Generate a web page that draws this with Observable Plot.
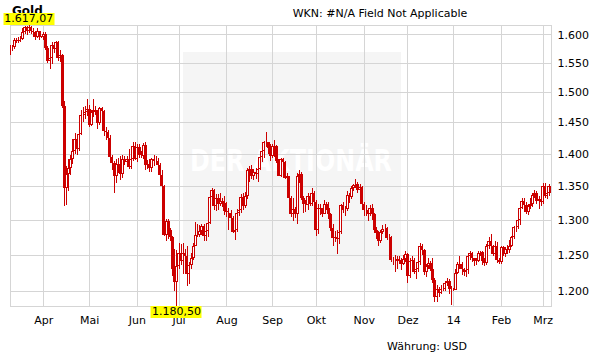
<!DOCTYPE html>
<html><head><meta charset="utf-8">
<script src="https://cdn.jsdelivr.net/npm/d3@7"></script>
<script src="https://cdn.jsdelivr.net/npm/@observablehq/plot@0.6"></script>
<style>
body{margin:0;background:#fff;}
#wrap{position:relative;width:611px;height:364px;font-family:"DejaVu Sans",Verdana,sans-serif;background:#fff;overflow:hidden;}
#wrap svg{position:absolute;left:0;top:0;}
.t{position:absolute;font-size:11px;color:#000;white-space:nowrap;line-height:12px;}
</style></head><body>
<div id="wrap"></div>
<script>
// Gold (USD), daily OHLC, trading days starting 2013-03-08
const startDate = "2013-03-08";
const open = [
1576,1577,1578,1590,1588,1591,1592,1604,1613,1607,1614,1607,1604,1596,1606,1596,
1596,1600,1576,1553,1558,1581,1574,1586,1558,1564,1477,1348,1368,1378,1392,1405,1424,1408,1432,1462,1462,1467,
1472,1446,1467,1470,1468,1449,1473,1468,1436,1434,1425,1395,1386,1365,1384,1378,1369,1392,1387,1391,1380,1391,1412,
1392,1411,1398,1397,1413,1383,1384,1378,1391,1389,1388,1383,1367,1350,1278,1298,1285,1276,1230,1212,
1234,1253,1242,1252,1249,1223,1236,1246,1262,1278,1278,1284,1291,1277,1284,1296,1334,1345,1321,1333,1323,1328,1325,
1313,1311,1310,1303,1283,1286,1310,1314,1334,1320,1336,1374,1377,1365,1372,1369,1377,1395,1404,1419,1418,1409,
1396,1412,1412,1389,1366,1391,1387,1363,1365,1332,1308,1316,1308,1366,1368,1333,1323,1322,1336,1323,1339,
1327,1286,1318,1316,1309,1324,1318,1308,1288,1274,1276,1272,1282,1322,1315,1316,1337,1334,1347,1352,1353,1345,1349,
1323,1315,1314,1308,1318,1308,1286,1281,1270,1283,1287,1288,1274,1275,1243,1243,1244,1241,1243,1238,1244,
1251,1221,1241,1243,1226,1230,1240,1262,1257,1226,1234,1239,1230,1216,1193,1203,1198,1203,1203,1211,1214,1203,
1202,1202,1225,1238,1238,1230,1226,1229,1248,1253,1245,1241,1242,1253,1254,1241,1239,1263,1270,1263,1251,1262,1243,
1240,1261,1251,1258,1257,1263,1275,1289,1290,1300,1318,1328,1322,1312,1321,1324,1337,1340,1328,1331,
1326,1350,1336,1339,1351];
const high = [
1582,1582,1593,1594,1596,1597,1611,1616,1615,1617.07,1616,1612,1606,1611,1607,1597,
1604,1604,1579,1567,1587,1585,1588,1589,1573,1566,1485,1381,1392,1398,1424,1433,1431,1437,1470,1476,1477,1488,
1478,1471,1488,1477,1471,1476,1476,1470,1442,1437,1430,1398,1389,1392,1394,1397,1398,1396,1397,1407,1396,1418,1418,
1416,1415,1405,1417,1418,1390,1391,1393,1398,1396,1394,1386,1375,1352,1301,1301,1288,1277,1258,1257,
1267,1265,1267,1258,1262,1240,1253,1267,1297,1294,1292,1294,1294,1295,1299,1337,1348,1346,1338,1338,1340,1332,1336,
1326,1318,1315,1305,1289,1316,1323,1338,1340,1341,1378,1381,1383,1377,1378,1379,1400,1407,1420,1434,1419,1416,
1416,1422,1414,1392,1393,1393,1388,1370,1366,1336,1333,1319,1370,1375,1371,1336,1330,1339,1338,1347,1343,
1330,1324,1324,1318,1329,1326,1327,1310,1294,1284,1285,1286,1324,1326,1321,1343,1339,1350,1354,1361,1356,1353,1350,
1327,1322,1318,1322,1323,1310,1290,1284,1286,1293,1294,1290,1279,1277,1247,1250,1248,1248,1246,1250,1255,
1252,1245,1249,1246,1237,1243,1267,1265,1259,1238,1246,1242,1246,1218,1209,1206,1208,1205,1214,1218,1217,1207,
1205,1230,1240,1248,1240,1232,1233,1250,1256,1254,1246,1245,1256,1256,1256,1245,1265,1275,1280,1264,1269,1268,1246,
1263,1262,1261,1264,1271,1277,1291,1295,1301,1320,1332,1332,1326,1323,1332,1339,1344,1343,1336,1336,
1355,1355,1342,1353,1355];
const low = [
1563,1571,1575,1584,1585,1586,1591,1600,1599,1603,1601,1597,1591,1594,1591,1594,
1590,1573,1549,1540,1548,1568,1570,1553,1552,1473,1321,1322,1343,1367,1384,1400,1398,1405,1430,1450,1455,1460,
1442,1444,1459,1462,1439,1446,1458,1428,1422,1421,1390,1374,1339,1355,1370,1360,1362,1383,1384,1376,1377,1389,1390,
1387,1394,1394,1391,1375,1376,1372,1371,1381,1382,1377,1363,1345,1277,1269,1272,1270,1221,1200,1180.5,
1230,1236,1224,1243,1207,1210,1231,1243,1262,1275,1276,1278,1270,1270,1276,1294,1324,1314,1313,1314,1321,1319,1307,
1304,1285,1299,1281,1271,1282,1306,1310,1315,1318,1331,1357,1361,1360,1361,1357,1374,1387,1393,1410,1400,1388,
1394,1395,1386,1365,1364,1380,1361,1355,1322,1304,1298,1303,1294,1355,1329,1310,1312,1315,1320,1321,1318,
1277,1280,1307,1304,1308,1315,1301,1284,1262,1268,1251,1265,1279,1310,1305,1313,1325,1331,1343,1347,1339,1339,1319,
1306,1305,1299,1305,1300,1281,1273,1262,1267,1279,1281,1271,1268,1240,1236,1226,1231,1237,1229,1236,1240,
1211,1218,1233,1223,1217,1226,1236,1250,1222,1220,1231,1228,1211,1186,1186,1192,1196,1201,1200,1207,1196,1182,
1200,1202,1224,1230,1222,1221,1219,1224,1243,1240,1234,1236,1240,1249,1236,1234,1236,1259,1260,1248,1250,1239,1238,
1238,1248,1247,1251,1252,1261,1273,1282,1287,1292,1316,1312,1309,1307,1316,1319,1332,1323,1316,1321,
1324,1333,1331,1336,1330];
const close = [
1577,1578,1590,1588,1591,1592,1604,1613,1607,1614,1607,1604,1596,1606,1596,1596,
1600,1576,1553,1558,1581,1574,1586,1558,1564,1477,1348,1368,1378,1392,1405,1424,1408,1432,1462,1462,1467,1472,
1446,1467,1470,1468,1449,1473,1468,1436,1434,1425,1395,1386,1365,1384,1378,1369,1392,1387,1391,1380,1391,1412,1392,
1411,1398,1397,1413,1383,1384,1378,1391,1389,1388,1383,1367,1350,1278,1298,1285,1276,1230,1212,1234,
1253,1242,1252,1249,1223,1236,1246,1262,1278,1278,1284,1291,1277,1284,1296,1334,1345,1321,1333,1323,1328,1325,1313,
1311,1310,1303,1283,1286,1310,1314,1334,1320,1336,1374,1377,1365,1372,1369,1377,1395,1404,1419,1418,1409,1396,
1412,1412,1389,1366,1391,1387,1363,1365,1332,1308,1316,1308,1366,1368,1333,1323,1322,1336,1323,1339,1327,
1286,1318,1316,1309,1324,1318,1308,1288,1274,1276,1272,1282,1322,1315,1316,1337,1334,1347,1352,1353,1345,1349,1323,
1315,1314,1308,1318,1308,1286,1281,1270,1283,1287,1288,1274,1275,1243,1243,1244,1241,1243,1238,1244,1251,
1221,1241,1243,1226,1230,1240,1262,1257,1226,1234,1239,1230,1216,1193,1203,1198,1203,1203,1211,1214,1203,1202,
1202,1225,1238,1238,1230,1226,1229,1248,1253,1245,1241,1242,1253,1254,1241,1239,1263,1270,1263,1251,1262,1243,1240,
1261,1251,1258,1257,1263,1275,1289,1290,1300,1318,1328,1322,1312,1321,1324,1337,1340,1328,1331,1326,
1350,1336,1339,1351,1339];
const monthLabels = ["Apr","Mai","Jun","Jul","Aug","Sep","Okt","Nov","Dez","14","Feb","Mrz"];
const yTicks = [1200,1250,1300,1350,1400,1450,1500,1550,1600];

// trading-day calendar (weekdays)
const dates = [];
{ const d = new Date(startDate + "T00:00:00Z");
  while (dates.length < close.length) { const wd = d.getUTCDay(); if (wd !== 0 && wd !== 6) dates.push(new Date(d)); d.setUTCDate(d.getUTCDate() + 1); } }
const monthStarts = [];
for (let i = 1; i < dates.length; i++) if (dates[i].getUTCMonth() !== dates[i-1].getUTCMonth()) monthStarts.push(i);

const rows = close.map((c, i) => ({i, o: open[i], h: high[i], l: low[i], c}));
const red = "#cc0000", grid = "#d5d5d5";
const de = d3.formatLocale({decimal: ",", thousands: ".", grouping: [3], currency: ["", "€"]});
const fmtAxis = de.format(",.0f"), fmt2 = de.format(",.2f");

const plot = Plot.plot({
  width: 611, height: 364,
  marginLeft: 10, marginRight: 60, marginTop: 25, marginBottom: 58,
  style: {fontFamily: '"DejaVu Sans", Verdana, sans-serif', fontSize: "11px", color: "#000", background: "transparent", overflow: "visible"},
  x: {domain: [0, close.length - 1], axis: null, label: null},
  y: {type: "log", domain: [d3.min(low), d3.max(high)], axis: null, label: null},
  color: {type: "identity"},
  marks: [
    Plot.gridY(yTicks, {stroke: grid, strokeOpacity: 1, shapeRendering: "crispEdges"}),
    Plot.ruleX(monthStarts, {stroke: grid, strokeOpacity: 1, shapeRendering: "crispEdges"}),
    Plot.frame({stroke: grid, shapeRendering: "crispEdges"}),
    Plot.ruleX(rows, {x: "i", y1: "l", y2: "h", stroke: red, strokeWidth: 1, clip: true, shapeRendering: "crispEdges"}),
    Plot.rect(rows, {x1: d => d.i - 0.72, x2: d => d.i + 0.72, y1: "o", y2: "c",
      fill: d => d.c > d.o ? "#ffffff" : red, stroke: red, strokeWidth: 1, inset: 0.5, clip: true, shapeRendering: "crispEdges"}),
    Plot.axisY(yTicks, {anchor: "right", tickSize: 0, tickPadding: 6, tickFormat: fmtAxis, fill: "#000", label: null}),
    Plot.axisX(monthStarts, {anchor: "bottom", tickSize: 0, tickPadding: 10, fill: "#000", label: null,
      tickFormat: d => monthLabels[monthStarts.indexOf(d)]})
  ]
});

// watermark behind everything
const svg = d3.select(plot);
const wm = svg.insert("g", ":first-child");
wm.append("rect").attr("x", 183).attr("y", 52).attr("width", 218).attr("height", 218).attr("fill", "#f5f5f5");
wm.append("text").attr("x", 190).attr("y", 171).attr("fill", "#ffffff").attr("font-size", 30).attr("font-weight", "bold")
  .attr("text-anchor", "start")
  .attr("font-family", '"DejaVu Sans", Verdana, sans-serif').attr("textLength", 202).attr("lengthAdjust", "spacingAndGlyphs")
  .text("DER AKTIONÄR");

const wrap = document.getElementById("wrap");
wrap.appendChild(plot);

function add(txt, css) { const s = document.createElement("div"); s.className = "t"; s.textContent = txt; Object.assign(s.style, css); wrap.appendChild(s); return s; }

add("Gold", {left: "12px", top: "5px", fontWeight: "bold", fontSize: "12px"});
add("WKN: #N/A Field Not Applicable", {left: "380px", top: "8px", transform: "translateX(-50%)"});
add("Währung: USD", {left: "387px", top: "341px"});

// max / min markers placed with the plot's scales
const xs = plot.scale("x"), ys = plot.scale("y");
const iMax = high.indexOf(d3.max(high)), iMin = low.indexOf(d3.min(low));
const mx = xs.apply(iMax), mn = xs.apply(iMin);
const yTop = ys.apply(d3.max(high)), yBot = ys.apply(d3.min(low));
add(fmt2(high[iMax]), {left: mx + "px", top: (yTop - 12) + "px", transform: "translateX(-50%)", background: "#ffff00", padding: "0 1px"});
add(fmt2(low[iMin]), {left: mn + "px", top: (yBot) + "px", transform: "translateX(-50%)", background: "#ffff00", padding: "0 1px"});
</script>
</body></html>
